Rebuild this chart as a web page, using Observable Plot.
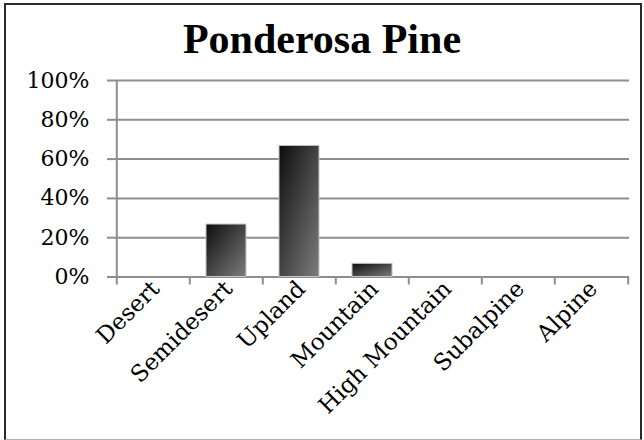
<!DOCTYPE html>
<html>
<head>
<meta charset="utf-8">
<script src="https://cdn.jsdelivr.net/npm/d3@7"></script>
<script src="https://cdn.jsdelivr.net/npm/@observablehq/plot@0.6"></script>
<style>
  html, body { margin: 0; padding: 0; background: #fff; }
  #wrap { position: relative; width: 644px; height: 440px; overflow: hidden; }
  #frame { position: absolute; left: 4px; top: 3px; width: 634px; height: 434px;
           border-left: 2px solid #2a2a2a; border-top: 2px solid #2a2a2a; border-right: 2px solid #2a2a2a;
           border-bottom: 1px solid #b0b0b0; pointer-events: none; }
  #title { position: absolute; left: 0; width: 644px; top: 14px; text-align: center;
           font-family: "Liberation Serif", serif; font-weight: bold; font-size: 42px; color: #000; line-height: 50px; }
  #chart { position: absolute; left: 0; top: 0; }
</style>
</head>
<body>
<div id="wrap">
  <div id="chart"></div>
  <div id="title">Ponderosa Pine</div>
  <div id="frame"></div>
</div>
<script>
const categories = ["Desert", "Semidesert", "Upland", "Mountain", "High Mountain", "Subalpine", "Alpine"];
const values = [0, 0.267, 0.667, 0.067, 0, 0, 0];
const yTicks = [0, 0.2, 0.4, 0.6, 0.8, 1.0];

const data = categories.map((c, i) => ({category: c, value: values[i]}));

const W = 644, H = 440, ML = 115, MR = 15, MT = 80, MB = 163.5;
const step = (W - ML - MR) / categories.length;
const gray = "#8e8e8e";

const plot = Plot.plot({
  width: W,
  height: H,
  marginLeft: ML,
  marginRight: MR,
  marginTop: MT,
  marginBottom: MB,
  style: {fontFamily: "'DejaVu Serif', serif", background: "transparent", color: "#000", overflow: "visible"},
  x: {domain: categories, padding: 0.45, paddingOuter: 0.225, label: null},
  y: {domain: [0, 1], label: null},
  marks: [
    Plot.gridY(yTicks, {stroke: gray, strokeOpacity: 1, strokeWidth: 2}),
    Plot.ruleX([categories[0]], {dx: -step / 2, stroke: gray, strokeWidth: 2}),
    Plot.ruleX(categories, {x: d => d, y1: 0, y2: 0, dx: -step / 2, insetBottom: -8, stroke: gray, strokeWidth: 2}),
    Plot.ruleX([categories[categories.length - 1]], {y1: 0, y2: 0, dx: step / 2, insetBottom: -8, stroke: gray, strokeWidth: 2}),
    Plot.barY(data, {x: "category", y: "value", fill: "url(#barGrad)", stroke: "#c4c4c4", strokeWidth: 1}),
    Plot.axisY(yTicks, {tickSize: 8, tickPadding: 18, stroke: gray, strokeWidth: 2, tickFormat: d3.format(".0%"), fontSize: 22, label: null}),
    Plot.axisX({tickSize: 0, tickRotate: -45, tickPadding: 8, dx: 2, fontSize: 23, label: null})
  ]
});

const svg = d3.select(plot);
const defs = svg.insert("defs", ":first-child");
const g = defs.append("linearGradient").attr("id", "barGrad")
  .attr("x1", "0").attr("y1", "0").attr("x2", "1").attr("y2", "1");
g.append("stop").attr("offset", "0%").attr("stop-color", "#0d0d0d");
g.append("stop").attr("offset", "100%").attr("stop-color", "#7c7c7c");

document.getElementById("chart").appendChild(plot);
</script>
</body>
</html>
